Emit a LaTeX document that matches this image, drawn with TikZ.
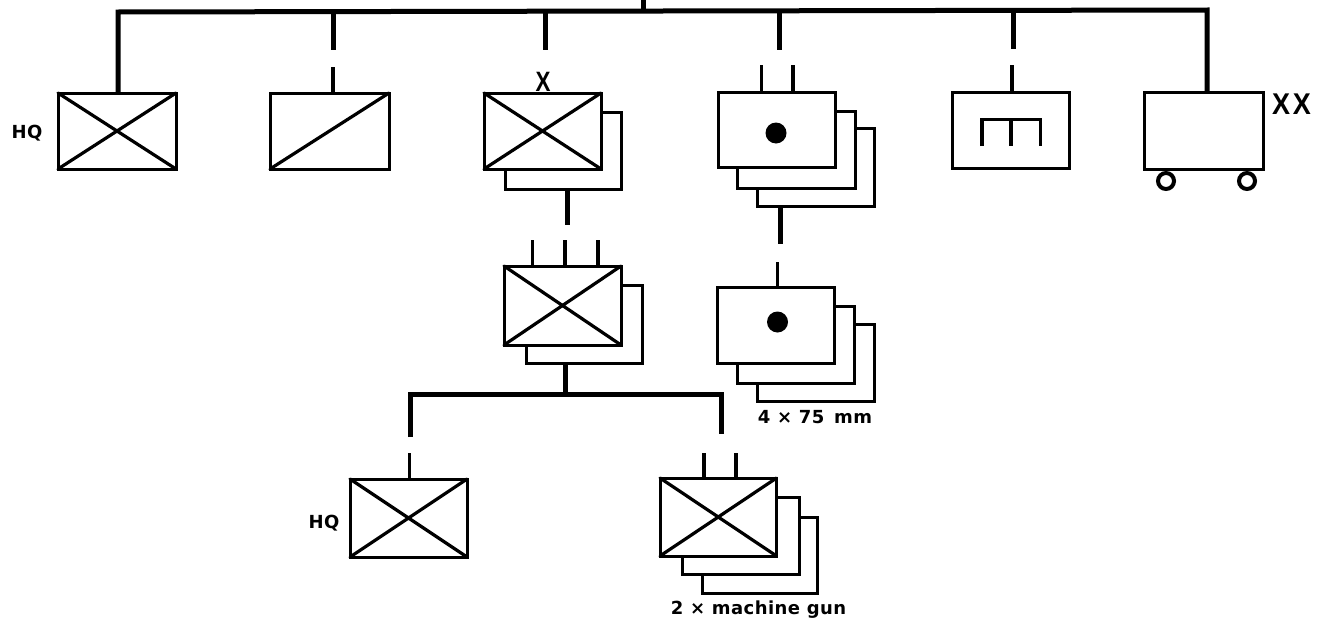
\documentclass[tikz,border=0pt]{standalone}
\usepackage{fontspec}
\setmainfont{Liberation Sans}
\newfontfamily\lblfont[LetterSpace=2.5]{DejaVu Sans}
\newcommand{\milbox}[5]{%
  \pgfmathsetmacro\cx{(#2+#4)/2}\pgfmathsetmacro\cy{(#3+#5)/2}%
  \pgfmathsetmacro\bw{#4-#2}\pgfmathsetmacro\bh{#5-#3}%
  \node[unitbox,minimum width=\bw pt,minimum height=\bh pt] (#1) at (\cx,\cy) {};}
\newcommand{\crossbox}[1]{\draw[boxline] (#1.north west) -- (#1.south east) (#1.north east) -- (#1.south west);}
\tikzset{
  unitbox/.style={draw=black,fill=white,line width=3pt,inner sep=0pt,outer sep=0pt,line join=miter},
  boxline/.style={line width=3.2pt,line cap=round},
  heavy/.style={line width=5pt},
  light/.style={line width=3.4pt},
  lbl/.style={font=\lblfont\bfseries\fontsize{18}{20}\selectfont,inner sep=0pt},
  bigx/.style={font=\bfseries\fontsize{30}{32}\selectfont,inner sep=0pt},
  dotn/.style={draw=none,fill=black,circle,minimum size=21pt,inner sep=0pt,outer sep=0pt},
  wheel/.style={draw=black,fill=white,circle,line width=4pt,minimum size=16pt,inner sep=0pt,outer sep=0pt}
}
\begin{document}
\begin{tikzpicture}[x=1pt,y=-1pt]
\useasboundingbox[fill=white] (0,0) rectangle (1328,624);
% top row
\milbox{hq}{58}{93}{176}{169}
\crossbox{hq}
\milbox{staff}{270}{93}{389}{169}
\draw[boxline] (staff.south west) -- (staff.north east);
\milbox{infb}{505}{112}{621}{189}
\milbox{inf}{484}{93}{601}{169}
\crossbox{inf}
\milbox{artb}{757}{128}{874}{206}
\milbox{arta}{737}{111}{855}{188}
\milbox{art}{718}{92}{835}{167}
\node[dotn] (artdot) at (776,133) {};
\milbox{eng}{952}{92}{1069}{168}
\draw[boxline,line cap=butt] (982,146) -- (982,119.5) -- (1040.5,119.5) -- (1040.5,146) (1011,119.5) -- (1011,146);
\node[wheel] (w1) at (1166,181) {};
\node[wheel] (w2) at (1247,181) {};
\milbox{sup}{1144.5}{92}{1263}{169}
\node[bigx,xscale=.9] (xx) at (1291.5,104) {X\hspace{3pt}X};
\node[bigx,xscale=.8,font=\bfseries\fontsize{28}{30}\selectfont] (x1) at (543,82) {X};
\node[lbl] (hqa) at (27,133) {HQ};
% second row
\milbox{bnb}{526}{285}{642}{363}
\milbox{bn}{504}{266}{621}{345}
\crossbox{bn}
\milbox{batb}{757}{324}{874}{401}
\milbox{bata}{737}{306}{854}{383}
\milbox{bat}{717}{287}{834}{363}
\node[dotn] (batdot) at (777.5,322) {};
\node[lbl] (mm) at (815,417) {4 × 75\hspace{3pt} mm};
% third row
\milbox{coy}{350}{479}{467}{557}
\crossbox{coy}
\node[lbl] (hqb) at (324,523) {HQ};
\milbox{mgb}{702}{517}{817}{593}
\milbox{mga}{682}{497}{799}{574}
\milbox{mg}{660}{478}{776.5}{556}
\crossbox{mg}
\node[lbl] (gun) at (758.5,610) {2 × machine gun};
% named free ends
\coordinate (top) at (643,0);
\coordinate (jtop) at (643,11.5);
\coordinate (barl) at (118,12);
\coordinate (barr) at (1207,10);
\coordinate (j2) at (333,12);
\coordinate (e2) at (333,50);
\coordinate (t2) at (333,67);
\coordinate (j3) at (545,12);
\coordinate (e3) at (545,50);
\coordinate (j4) at (779,11);
\coordinate (e4) at (779,50);
\coordinate (t4a) at (761.5,65);
\coordinate (t4b) at (793,65);
\coordinate (j5) at (1013,11);
\coordinate (e5) at (1013,49);
\coordinate (t5) at (1012,65);
\coordinate (d3) at (567,225);
\coordinate (d4) at (780,244);
\coordinate (t6) at (777.5,262);
\coordinate (t7a) at (532.5,240);
\coordinate (t7b) at (565,240);
\coordinate (t7c) at (598,240);
\coordinate (j7) at (565,394);
\coordinate (barb) at (410,394);
\coordinate (barc) at (721,394);
\coordinate (e8) at (410,437);
\coordinate (e9) at (721,434);
\coordinate (t8) at (409.5,453);
\coordinate (t9a) at (704,453);
\coordinate (t9b) at (736,453);
% connectors
\draw[heavy,line join=miter] (e8) -- (barb) -- (barc) -- (e9);
\draw[heavy] (j7) -- (j7 |- bnb.south);
\draw[heavy,line join=miter] (hq.north -| barl) -- (barl) -- (barr) -- (barr |- sup.north);
\draw[heavy] (top) -- (jtop);
\draw[heavy] (j2) -- (e2);
\draw[heavy] (j3) -- (e3);
\draw[heavy] (j4) -- (e4);
\draw[heavy] (j5) -- (e5);
\draw[heavy] (d3 |- infb.south) -- (d3);
\draw[heavy] (d4 |- artb.south) -- (d4);
\draw[light] (t2) -- (t2 |- staff.north);
\draw[light] (t4a) -- (t4a |- art.north);
\draw[light] (t4b) -- (t4b |- art.north);
\draw[light] (t5) -- (t5 |- eng.north);
\draw[light] (t6) -- (t6 |- bat.north);
\draw[light] (t7a) -- (t7a |- bn.north);
\draw[light] (t7b) -- (t7b |- bn.north);
\draw[light] (t7c) -- (t7c |- bn.north);
\draw[light] (t8) -- (t8 |- coy.north);
\draw[light] (t9a) -- (t9a |- mg.north);
\draw[light] (t9b) -- (t9b |- mg.north);
\end{tikzpicture}
\end{document}
